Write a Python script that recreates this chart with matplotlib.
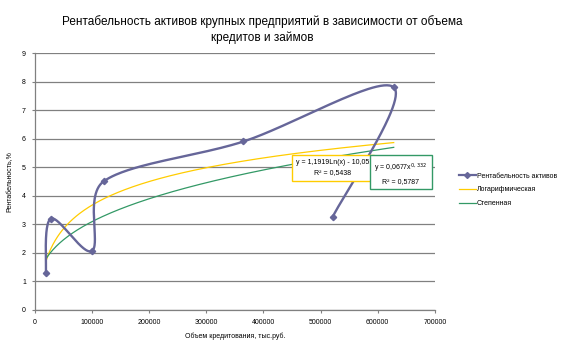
import numpy as np
import matplotlib
matplotlib.use('Agg')
import matplotlib.pyplot as plt

plt.rcParams['font.family'] = ['Liberation Sans', 'DejaVu Sans']

# data
credit = [19000, 28000, 100000, 120000, 365000, 628000, 521000]
roa = [1.3, 3.2, 2.07, 4.5, 5.9, 7.8, 3.25]

log_a, log_b = 1.1919, -10.05
pow_a, pow_b = 0.0677, 0.332
r2_log, r2_pow = 0.5438, 0.5787

x_ticks = [0, 100000, 200000, 300000, 400000, 500000, 600000, 700000]
y_ticks = [0, 1, 2, 3, 4, 5, 6, 7, 8, 9]

title = 'Рентабельность активов крупных предприятий в зависимости от объема\nкредитов и займов'
xlabel = 'Объем кредитования, тыс.руб.'
ylabel = 'Рентабельность,%'
names = ['Рентабельность активов', 'Логарифмическая', 'Степенная']

purple = '#666699'
yellow = '#FFCC00'
green = '#339966'


def smooth(xs, ys, sx, sy, n=60):
    # excel style smoothed line, bezier done in screen-like units
    p = np.column_stack([np.array(xs) / sx, np.array(ys) / sy])
    out = []
    for i in range(len(p) - 1):
        p0 = p[i - 1] if i > 0 else p[i]
        p3 = p[i + 2] if i + 2 < len(p) else p[i + 1]
        d = np.hypot(*(p[i + 1] - p[i]))
        a1 = (p[i + 1] - p0) / 6
        a2 = (p3 - p[i]) / 6
        # keep control arms shorter than a third of the segment
        for a in (a1, a2):
            la = np.hypot(*a)
            if la > d / 3:
                a *= d / 3 / la
        c1 = p[i] + a1
        c2 = p[i + 1] - a2
        t = np.linspace(0, 1, n)[:, None]
        seg = ((1 - t) ** 3 * p[i] + 3 * (1 - t) ** 2 * t * c1
               + 3 * (1 - t) * t ** 2 * c2 + t ** 3 * p[i + 1])
        out.append(seg)
    out = np.vstack(out)
    return out[:, 0] * sx, out[:, 1] * sy


fig = plt.figure(figsize=(5.64, 3.51), dpi=100)
ax = fig.add_axes([0.062, 0.117, 0.709, 0.732])

sx, sy = smooth(credit, roa, 700000 / 400, 9 / 257)
ax.plot(sx, sy, color=purple, lw=1.7, zorder=4)
ax.plot(credit, roa, ls='none', marker='D', ms=3.2, color=purple, zorder=5)

xt = np.linspace(min(credit), max(credit), 300)
ax.plot(xt, log_a * np.log(xt) + log_b, color=yellow, lw=0.9, zorder=3)
ax.plot(xt, pow_a * xt ** pow_b, color=green, lw=0.9, zorder=3)

ax.set_xlim(0, 700000)
ax.set_ylim(0, 9)
ax.set_xticks(x_ticks)
ax.set_yticks(y_ticks)
ax.set_xticklabels([str(v) for v in x_ticks], fontsize=5)
ax.set_yticklabels([str(v) for v in y_ticks], fontsize=5)
ax.tick_params(length=2.5, width=0.8, color='#808080', pad=4)
ax.grid(axis='y', color='#808080', lw=0.9)
ax.set_axisbelow(True)
for s in ['top', 'right']:
    ax.spines[s].set_visible(False)
for s in ['left', 'bottom']:
    ax.spines[s].set_color('#808080')
    ax.spines[s].set_linewidth(0.9)

ax.set_xlabel(xlabel, fontsize=5, labelpad=5)
ax.set_ylabel(ylabel, fontsize=5, labelpad=6)
fig.text(0.465, 0.917, title, ha='center', va='center', fontsize=8.5, linespacing=1.35)

ax.text(0.745, 0.553, 'y = 1,1919Ln(x) - 10,05\nR² = 0,5438', transform=ax.transAxes,
        ha='center', va='center', fontsize=5, linespacing=1.6, zorder=6,
        bbox=dict(boxstyle='square,pad=0.6', fc='white', ec=yellow, lw=1))
ax.text(0.915, 0.533, 'y = 0,0677x$^{0,332}$\nR² = 0,5787', transform=ax.transAxes,
        ha='center', va='center', fontsize=5, linespacing=1.6, zorder=6,
        bbox=dict(boxstyle='square,pad=0.6', fc='white', ec=green, lw=1))

handles = [plt.Line2D([], [], color=purple, lw=1.6, marker='D', ms=3),
           plt.Line2D([], [], color=yellow, lw=0.9),
           plt.Line2D([], [], color=green, lw=0.9)]
fig.legend(handles, names, loc='center left', bbox_to_anchor=(0.802, 0.459),
           frameon=False, fontsize=5, handlelength=2.5, handletextpad=0.1,
           labelspacing=0.95)

fig.savefig('out.png', dpi=100)
